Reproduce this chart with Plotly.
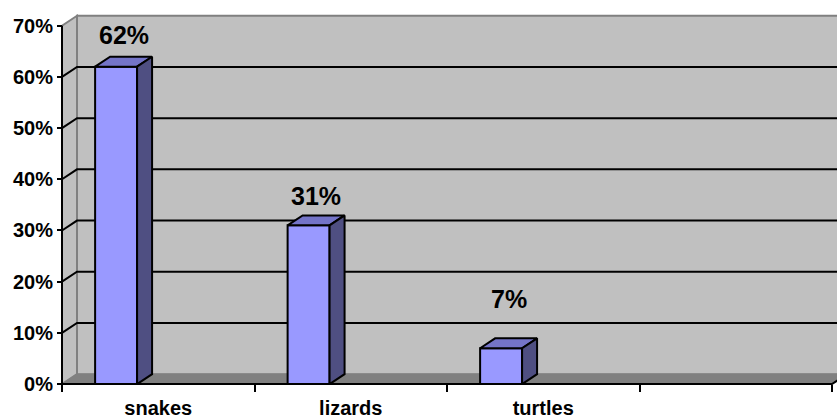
import plotly.graph_objects as go

# ---------------- data ----------------
categories = ["snakes", "lizards", "turtles", " "]
values = [0.62, 0.31, 0.07]
value_labels = ["62%", "31%", "7%"]
y_ticks = [0.0, 0.1, 0.2, 0.3, 0.4, 0.5, 0.6, 0.7]
y_tick_labels = ["0%", "10%", "20%", "30%", "40%", "50%", "60%", "70%"]

# ---------------- geometry / style ----------------
W, H = 837, 419
ML, MR, MT, MB = 40, 0, 10, 20
X_PX = 192.5          # px per category
Y_PX = 516.0          # px per 1.0 (100%)
X0_PX, Y0_PX = 62, 387
XMIN = (ML - X0_PX) / X_PX
XMAX = (W - MR - X0_PX) / X_PX
YMIN = -(H - MB - Y0_PX) / Y_PX
YMAX = (Y0_PX - MT) / Y_PX
DX = 15 / X_PX        # depth offset
DY = 10 / Y_PX
BAR_OFF = 0.281       # bar front centre inside slot
BAR_W = 0.218
YTOP = y_ticks[-1]
NCAT = len(categories)
label_shift = [6, 3, 23]

FRONT = "#9999FF"
TOP = "#7474C8"
SIDE = "#4F4F82"
WALL = "#C0C0C0"
FLOOR = "#808080"
EDGE = "#808080"
FONT = "Liberation Sans, Arial, sans-serif"

fig = go.Figure()

bar_x = [i + BAR_OFF for i in range(len(values))]
fig.add_trace(go.Bar(
    x=bar_x, y=values, width=BAR_W,
    marker=dict(color=FRONT, line=dict(color="black", width=2)),
    hoverinfo="skip", showlegend=False,
))

# top and side faces
tx, ty, sx, sy = [], [], [], []
for xc, v in zip(bar_x, values):
    x0, x1 = xc - BAR_W / 2, xc + BAR_W / 2
    tx += [x0, x0 + DX, x1 + DX, x1, x0, None]
    ty += [v, v + DY, v + DY, v, v, None]
    sx += [x1, x1, x1 + DX, x1 + DX, x1, None]
    sy += [0, v, v + DY, DY, 0, None]
fig.add_trace(go.Scatter(x=tx, y=ty, mode="lines", fill="toself", fillcolor=TOP,
                         line=dict(color="black", width=2), hoverinfo="skip", showlegend=False))
fig.add_trace(go.Scatter(x=sx, y=sy, mode="lines", fill="toself", fillcolor=SIDE,
                         line=dict(color="black", width=2), hoverinfo="skip", showlegend=False))

shapes = []
# back wall
shapes.append(dict(type="rect", xref="x", yref="y", x0=DX, x1=NCAT + DX, y0=DY, y1=YTOP + DY,
                   fillcolor=WALL, line=dict(color=EDGE, width=2), layer="below"))
# side wall
shapes.append(dict(type="path", xref="x", yref="y",
                   path=f"M 0,0 L 0,{YTOP} L {DX},{YTOP + DY} L {DX},{DY} Z",
                   fillcolor=WALL, line=dict(color=EDGE, width=2), layer="below"))
# floor
shapes.append(dict(type="path", xref="x", yref="y",
                   path=f"M 0,0 L {NCAT},0 L {NCAT + DX},{DY} L {DX},{DY} Z",
                   fillcolor=FLOOR, line=dict(color=EDGE, width=1), layer="below"))
# gridlines
for v in y_ticks[1:-1]:
    shapes.append(dict(type="path", xref="x", yref="y",
                       path=f"M 0,{v} L {DX},{v + DY} L {NCAT + DX},{v + DY}",
                       line=dict(color="black", width=2), layer="below"))
# axis lines
shapes.append(dict(type="line", xref="x", yref="y", x0=0, x1=0, y0=0, y1=YTOP,
                   line=dict(color="black", width=2), layer="below"))
shapes.append(dict(type="path", xref="x", yref="y",
                   path=f"M 0,0 L {NCAT},0 L {NCAT + DX},{DY}",
                   line=dict(color="black", width=2), layer="below"))

annotations = []
for xc, v, lab, sh in zip(bar_x, values, value_labels, label_shift):
    annotations.append(dict(x=xc + DX / 2, y=v + DY, xref="x", yref="y", text=lab,
                            showarrow=False, yanchor="bottom", yshift=sh,
                            font=dict(family=FONT, size=25, color="black", weight="bold")))

fig.update_layout(
    width=W, height=H,
    margin=dict(l=ML, r=MR, t=MT, b=MB),
    paper_bgcolor="white", plot_bgcolor="white",
    shapes=shapes, annotations=annotations,
    showlegend=False,
    xaxis=dict(range=[XMIN, XMAX], tickmode="array",
               tickvals=[i + 0.5 for i in range(NCAT)], ticktext=categories,
               ticks="", showgrid=False, zeroline=False, showline=False,
               anchor="free", position=(H - MB - Y0_PX) / (H - MT - MB),
               tickfont=dict(family=FONT, size=20, color="black", weight="bold"),
               ticklabelstandoff=10,
               minor=dict(tickmode="array", tickvals=list(range(NCAT + 1)), ticks="outside",
                          ticklen=7, tickwidth=2, tickcolor="black", showgrid=False)),
    yaxis=dict(range=[YMIN, YMAX], tickmode="array", tickvals=y_ticks, ticktext=y_tick_labels,
               ticks="outside", ticklen=5, tickwidth=2, tickcolor="black",
               showgrid=False, zeroline=False, showline=False,
               anchor="free", position=(X0_PX - ML) / (W - ML - MR),
               tickfont=dict(family=FONT, size=20, color="black", weight="bold")),
)

fig.write_html("out.html")
